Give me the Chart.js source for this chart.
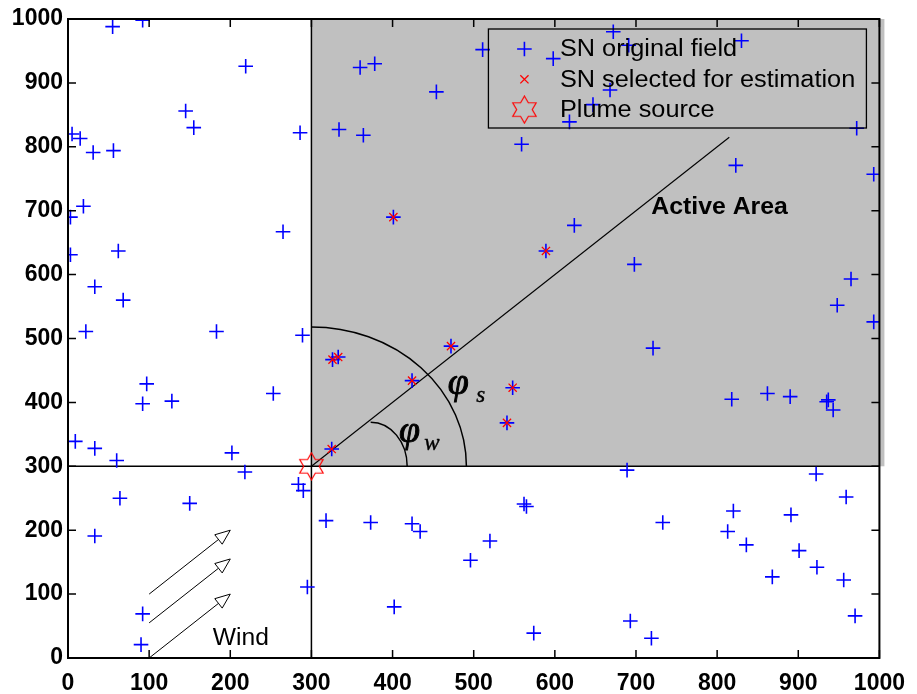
<!DOCTYPE html>
<html>
<head>
<meta charset="utf-8">
<title>Sensor field</title>
<script src="https://cdn.jsdelivr.net/npm/chart.js@4.4.1/dist/chart.umd.min.js"></script>
<style>
  html, body { margin: 0; padding: 0; background: #fff; }
  canvas { display: block; }
</style>
</head>
<body>
<canvas id="chart" width="917" height="694"></canvas>
<script>
// axis ticks (both axes)
const tickValues = [0, 100, 200, 300, 400, 500, 600, 700, 800, 900, 1000];

// all sensor nodes of the field
const fieldX = [55, 92, 219, 145, 155, 5, 15, 31, 56, 286, 19, 3, 265, 3, 62, 33, 68, 22, 183, 289,
  97, 92, 128, 253, 9, 33, 60, 202, 218, 64, 150, 33, 92, 90, 284, 290, 295,
  360, 378, 454, 511, 598, 334, 364, 559, 618, 647, 668, 672, 691, 830, 972, 823, 993, 624, 698,
  721, 965, 948, 993, 818, 862, 890, 935, 937, 943,
  401, 589, 472, 326, 333, 424, 548, 541, 325,
  318, 373, 424, 434, 520, 496, 562, 565, 402, 574, 689, 733, 820, 813, 836, 891, 901, 868, 922,
  923, 959, 956, 970, 693, 719];
const fieldY = [988, 998, 926, 856, 830, 820, 813, 791, 794, 822, 707, 690, 667, 631, 637, 581, 560, 511, 511, 505,
  429, 398, 402, 414, 339, 328, 309, 321, 291, 250, 242, 191, 69, 21, 272, 262, 111,
  924, 930, 886, 952, 938, 827, 818, 804, 839, 866, 889, 980, 959, 966, 829, 771, 757, 677, 616,
  485, 593, 552, 526, 405, 414, 409, 401, 404, 388,
  690, 637, 488, 467, 471, 434, 423, 368, 327,
  215, 212, 210, 198, 183, 153, 241, 237, 80, 39, 294, 212, 230, 198, 177, 224, 168, 127, 288,
  142, 252, 122, 66, 58, 31];

// nodes inside the active area used for the estimate
const selectedX = [401, 589, 472, 326, 333, 424, 548, 541, 325];
const selectedY = [690, 637, 488, 467, 471, 434, 423, 368, 327];

// plume source
const sourceX = [300];
const sourceY = [300];

// reference lines through the source
const hLineX = [0, 1000];
const hLineY = [300, 300];
const vLineX = [300, 300];
const vLineY = [0, 1000];
const windLineX = [300, 815];
const windLineY = [300, 815];

// wind arrows
const windFromX = [100, 100, 100];
const windFromY = [100, 55, 0];
const windToX = [200, 200, 200];
const windToY = [200, 155, 100];

// shaded active area
const activeX = [300, 1000];
const activeY = [300, 1000];

const toPoints = (xs, ys) => xs.map((v, i) => ({ x: v, y: ys[i] }));

// six-pointed star marker for the source
function hexagram(size, color) {
  const c = document.createElement('canvas');
  c.width = size; c.height = size;
  const g = c.getContext('2d');
  const R = size / 2 - 1, r = R / Math.sqrt(3), m = size / 2;
  g.beginPath();
  for (let i = 0; i < 12; i++) {
    const a = -Math.PI / 2 + i * Math.PI / 6;
    const rad = i % 2 === 0 ? R : r;
    const px = m + rad * Math.cos(a), py = m + rad * Math.sin(a);
    if (i === 0) g.moveTo(px, py); else g.lineTo(px, py);
  }
  g.closePath();
  g.strokeStyle = color;
  g.lineWidth = 1.2;
  g.stroke();
  return c;
}
const starImg = hexagram(29, '#ff0000');

const SANS = '"Liberation Sans", Arial, Helvetica, sans-serif';
const SERIF = '"Liberation Serif", "Times New Roman", serif';

// text drawn a little wider than the font's natural width
function wideText(ctx, text, x, y, sx) {
  ctx.save();
  ctx.translate(x, y);
  ctx.scale(sx, 1);
  ctx.fillText(text, 0, 0);
  ctx.restore();
}

// heavier glyph: fill plus a thin outline
function boldGlyph(ctx, text, x, y) {
  ctx.fillText(text, x, y);
  ctx.strokeText(text, x, y);
}

const lineSet = (xs, ys, w) => ({
  type: 'line',
  data: toPoints(xs, ys),
  borderColor: '#000',
  borderWidth: w,
  pointRadius: 0,
  fill: false,
  order: 5
});

const extras = {
  id: 'extras',
  beforeDatasetsDraw(chart) {
    const { ctx, chartArea, scales: { x, y } } = chart;
    ctx.save();
    ctx.fillStyle = '#c0c0c0';
    const x0 = x.getPixelForValue(activeX[0]);
    const y0 = y.getPixelForValue(activeY[0]);
    const y1 = y.getPixelForValue(activeY[1]);
    ctx.fillRect(x0, y1, chartArea.right + 5 - x0, y0 - y1);
    ctx.restore();
  },
  afterDatasetsDraw(chart) {
    const { ctx, scales: { x, y } } = chart;
    ctx.save();
    ctx.strokeStyle = '#000';

    // angle arcs around the source
    const arc = (cx, cy, rx, ry) => {
      const px = x.getPixelForValue(cx), py = y.getPixelForValue(cy);
      const prx = x.getPixelForValue(cx + rx) - px;
      const pry = py - y.getPixelForValue(cy + ry);
      ctx.beginPath();
      ctx.ellipse(px, py, prx, pry, 0, -Math.PI / 2, 0);
      ctx.stroke();
    };
    ctx.lineWidth = 1.5;
    arc(300, 300, 191, 218);
    arc(373, 300, 45, 69);

    // wind arrows
    ctx.lineWidth = 1;
    for (let i = 0; i < windFromX.length; i++) {
      const ax = x.getPixelForValue(windFromX[i]), ay = y.getPixelForValue(windFromY[i]);
      const bx = x.getPixelForValue(windToX[i]), by = y.getPixelForValue(windToY[i]);
      const ang = Math.atan2(by - ay, bx - ax);
      const len = 15, half = 6;
      const hx = bx - len * Math.cos(ang), hy = by - len * Math.sin(ang);
      ctx.beginPath();
      ctx.moveTo(ax, ay);
      ctx.lineTo(hx, hy);
      ctx.stroke();
      ctx.beginPath();
      ctx.moveTo(bx, by);
      ctx.lineTo(hx + half * Math.sin(ang), hy - half * Math.cos(ang));
      ctx.lineTo(hx - half * Math.sin(ang), hy + half * Math.cos(ang));
      ctx.closePath();
      ctx.fillStyle = '#fff';
      ctx.fill();
      ctx.stroke();
    }

    // annotations
    ctx.fillStyle = '#000';
    ctx.textAlign = 'center';
    ctx.textBaseline = 'middle';
    ctx.font = 'bold 23px ' + SANS;
    wideText(ctx, 'Active Area', x.getPixelForValue(803), y.getPixelForValue(704), 1.08);
    ctx.font = '23px ' + SANS;
    wideText(ctx, 'Wind', x.getPixelForValue(213), y.getPixelForValue(30), 1.07);

    ctx.textAlign = 'left';
    ctx.textBaseline = 'alphabetic';
    ctx.lineWidth = 0.9;
    ctx.font = 'italic 38px ' + SERIF;
    boldGlyph(ctx, '\u03C6', x.getPixelForValue(468), y.getPixelForValue(413));
    boldGlyph(ctx, '\u03C6', x.getPixelForValue(408), y.getPixelForValue(338));
    ctx.lineWidth = 0.4;
    ctx.font = 'italic 23px ' + SERIF;
    boldGlyph(ctx, 's', x.getPixelForValue(503), y.getPixelForValue(400));
    boldGlyph(ctx, 'w', x.getPixelForValue(439), y.getPixelForValue(325));
    ctx.restore();
  },
  afterDraw(chart) {
    const { ctx, chartArea: a, scales: { x, y } } = chart;
    ctx.save();
    ctx.strokeStyle = '#000';

    // inward ticks on all four sides
    ctx.lineWidth = 1.5;
    const tl = 8;
    ctx.beginPath();
    tickValues.forEach(v => {
      const px = x.getPixelForValue(v), py = y.getPixelForValue(v);
      ctx.moveTo(px, a.bottom); ctx.lineTo(px, a.bottom - tl);
      ctx.moveTo(px, a.top); ctx.lineTo(px, a.top + tl);
      ctx.moveTo(a.left, py); ctx.lineTo(a.left + tl, py);
      ctx.moveTo(a.right, py); ctx.lineTo(a.right - tl, py);
    });
    ctx.stroke();

    // axes box
    ctx.lineWidth = 2;
    ctx.strokeRect(a.left, a.top, a.right - a.left, a.bottom - a.top);

    // legend box
    const w = 378, h = 99;
    const lx = a.right - 13 - w, ly = a.top + 10;
    ctx.lineWidth = 1.3;
    ctx.strokeRect(lx, ly, w, h);
    const entries = chart.data.datasets.filter(d => d.label);
    ctx.font = '23px ' + SANS;
    ctx.textAlign = 'left';
    ctx.textBaseline = 'middle';
    entries.forEach((d, i) => {
      const cy = ly + 20 + i * 30.3;
      ctx.save();
      ctx.strokeStyle = d.borderColor;
      ctx.fillStyle = d.borderColor;
      ctx.lineWidth = d.borderWidth;
      Chart.helpers.drawPoint(ctx, {
        pointStyle: d.pointStyle, radius: d.pointRadius, borderWidth: d.borderWidth, rotation: 0
      }, lx + 36, cy);
      ctx.restore();
      ctx.fillStyle = '#000';
      wideText(ctx, d.label, lx + 71.5, cy + 1, 1.1);
    });
    ctx.restore();
  }
};

const ctx = document.getElementById('chart').getContext('2d');

const fieldChart = new Chart(ctx, {
  type: 'scatter',
  data: {
    datasets: [
      {
        label: 'SN original field',
        data: toPoints(fieldX, fieldY),
        pointStyle: 'cross',
        pointRadius: 7.3,
        borderColor: '#0000ff',
        backgroundColor: '#0000ff',
        borderWidth: 1.6,
        order: 3
      },
      {
        label: 'SN selected for estimation',
        data: toPoints(selectedX, selectedY),
        pointStyle: 'crossRot',
        pointRadius: 5.8,
        borderColor: '#ff0000',
        backgroundColor: '#ff0000',
        borderWidth: 1.3,
        order: 2
      },
      {
        label: 'Plume source',
        data: toPoints(sourceX, sourceY),
        pointStyle: starImg,
        pointRadius: 13,
        borderColor: '#ff0000',
        backgroundColor: '#ff0000',
        borderWidth: 1.2,
        clip: false,
        order: 1
      },
      lineSet(hLineX, hLineY, 1.5),
      lineSet(vLineX, vLineY, 1.5),
      lineSet(windLineX, windLineY, 1.1)
    ]
  },
  options: {
    responsive: false,
    animation: false,
    events: [],
    layout: {
      padding: { top: 19, right: 34, left: 0, bottom: 0 }
    },
    plugins: {
      legend: { display: false },
      tooltip: { enabled: false }
    },
    scales: {
      x: {
        type: 'linear',
        min: 0,
        max: 1000,
        afterBuildTicks: s => { s.ticks = tickValues.map(v => ({ value: v })); },
        afterFit: s => { s.height = 36; },
        grid: { display: false, drawTicks: false },
        border: { display: false },
        ticks: {
          color: '#000',
          padding: 12,
          maxRotation: 0,
          callback: v => String(v),
          font: { family: SANS, size: 23, weight: 'bold' }
        }
      },
      y: {
        type: 'linear',
        min: 0,
        max: 1000,
        afterBuildTicks: s => { s.ticks = tickValues.map(v => ({ value: v })); },
        afterFit: s => { s.width = 68; },
        grid: { display: false, drawTicks: false },
        border: { display: false },
        ticks: {
          color: '#000',
          padding: 5,
          callback: v => String(v),
          font: { family: SANS, size: 23, weight: 'bold' }
        }
      }
    }
  },
  plugins: [extras]
});
</script>
</body>
</html>
